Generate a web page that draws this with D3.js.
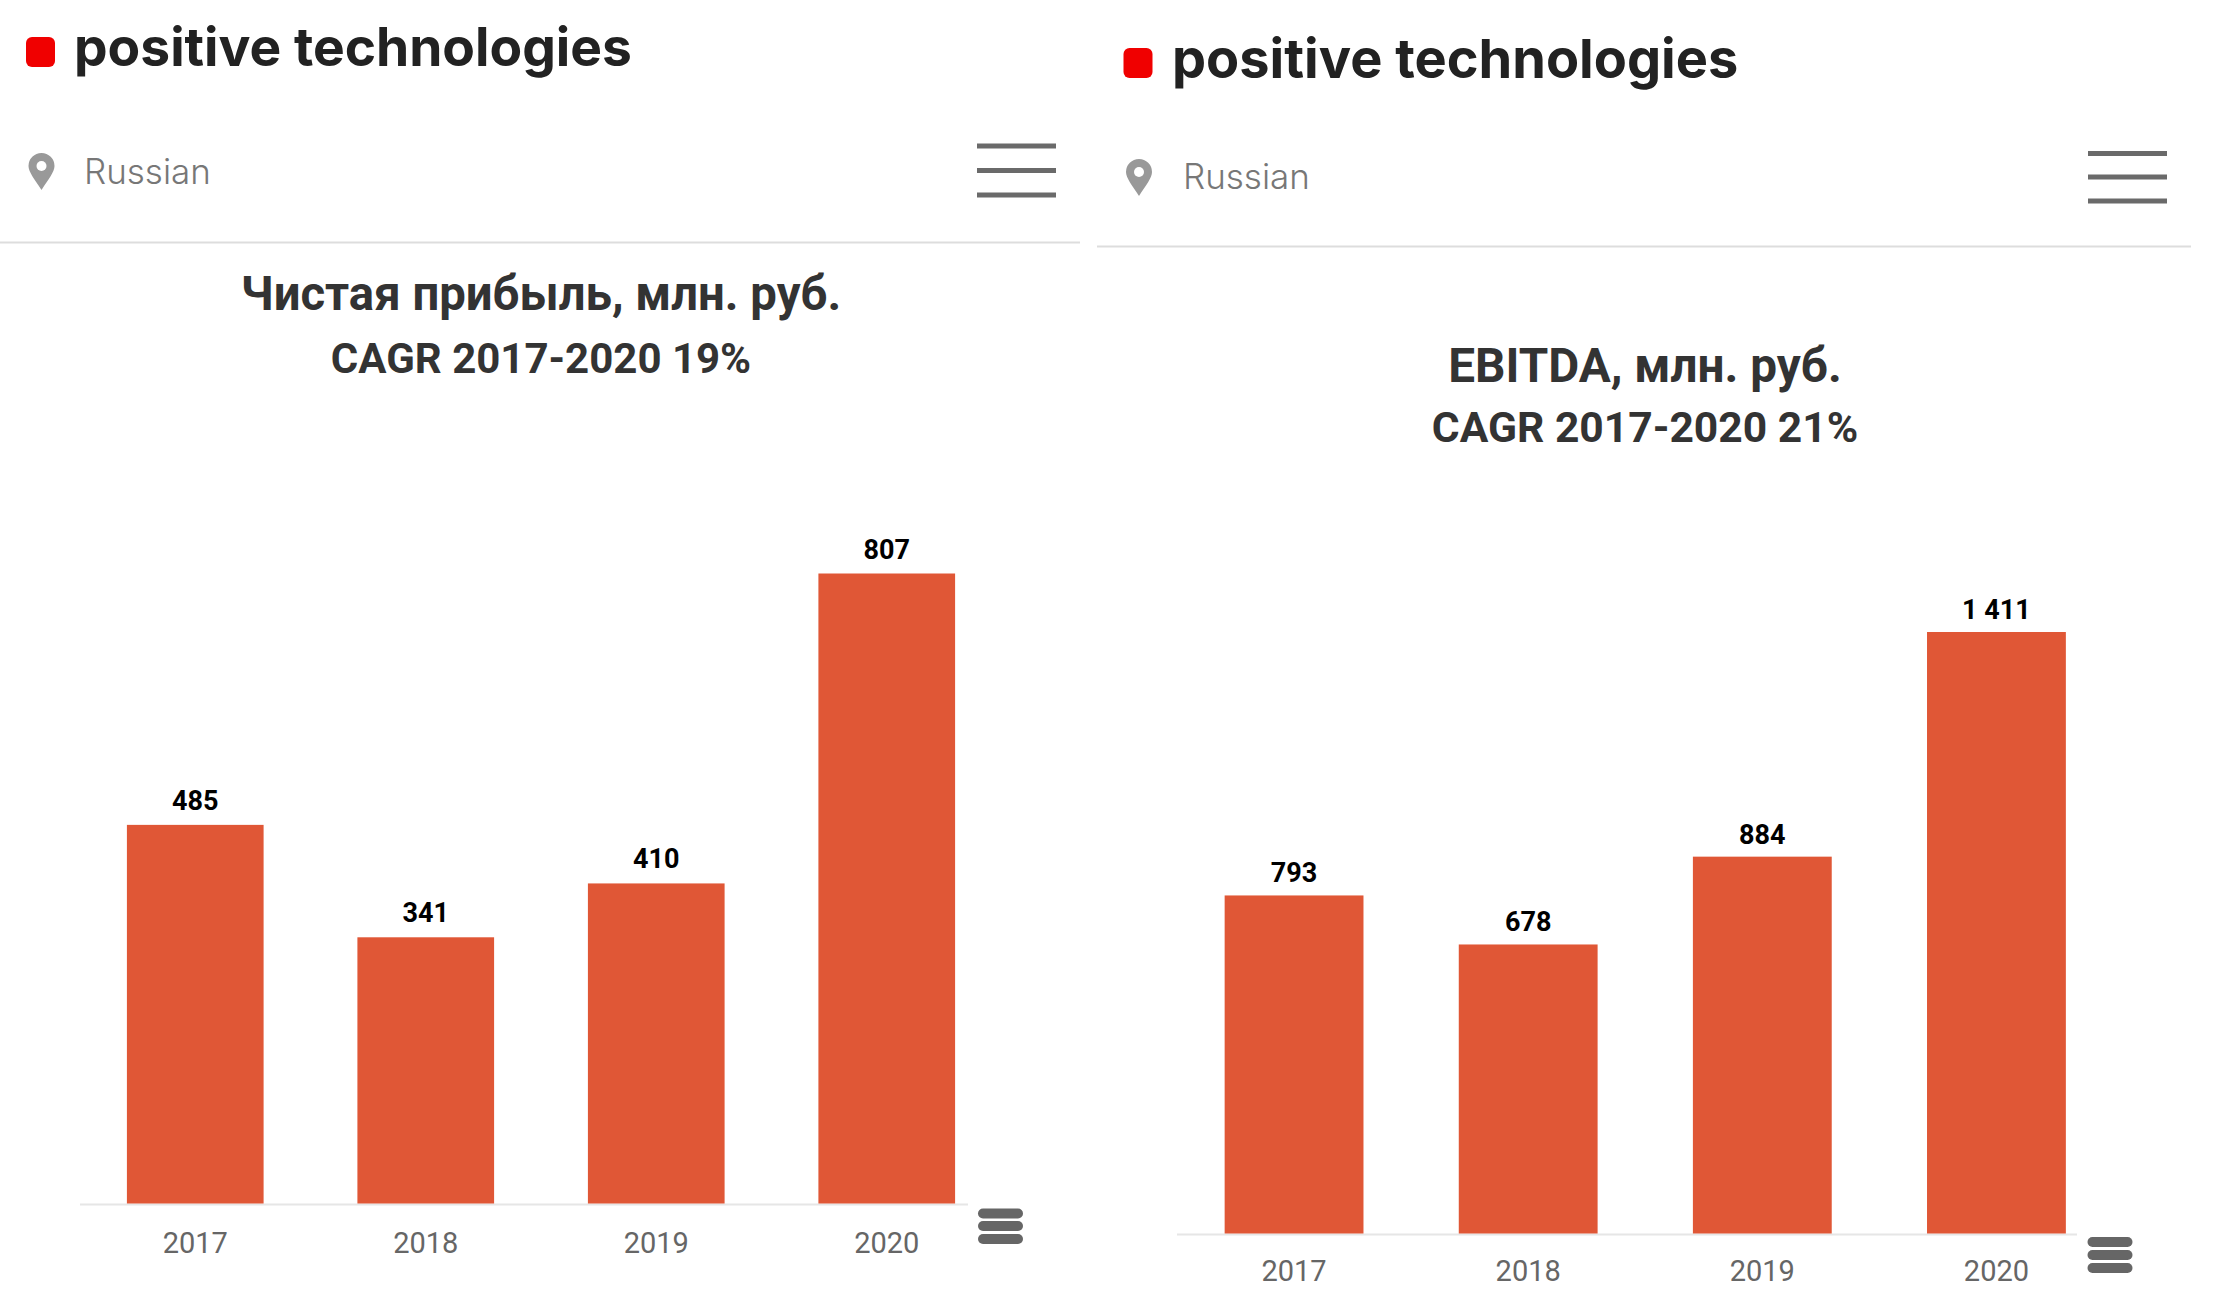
<!DOCTYPE html>
<html><head><meta charset="utf-8">
<style>html,body{margin:0;padding:0;background:#fff}svg{display:block}</style>
<script src="https://cdn.jsdelivr.net/npm/d3@7"></script></head>
<body><svg id="c" width="2232" height="1306"></svg>
<script>
const years = ["2017","2018","2019","2020"];
const netProfit = [485,341,410,807];
const ebitda = [793,678,884,1411];
const titles = ["Чистая прибыль, млн. руб.","EBITDA, млн. руб."];
const subtitles = ["CAGR 2017-2020 19%","CAGR 2017-2020 21%"];
const brand = "positive technologies";
const lang = "Russian";

const svg = d3.select("#c");
const BAR="#e05736", F="Roboto, sans-serif";
const fmt = v => d3.format(",")(v).replace(/,/g," ");

function panel(o){
  const g = svg.append("g");
  // header
  g.append("rect").attr("x",o.sq[0]).attr("y",o.sq[1]).attr("width",29).attr("height",30).attr("rx",6).attr("fill","#f00000");
  g.append("text").attr("x",o.logo[0]).attr("y",o.logo[1]).text(brand)
    .attr("font-family","Inter, sans-serif").attr("font-weight",700).attr("font-size",o.logoSize).attr("fill","#222");
  g.append("text").attr("x",o.lang[0]).attr("y",o.lang[1]).text(lang)
    .attr("font-family","Inter, sans-serif").attr("font-weight",300).attr("font-size",35).attr("fill","#777");
  const pin = g.append("g").attr("transform",`translate(${o.pin[0]},${o.pin[1]})`);
  pin.append("path").attr("d","M0,15 C-7,4 -13,-3 -13,-9 A13,13 0 1 1 13,-9 C13,-3 7,4 0,15Z").attr("fill","#999");
  pin.append("circle").attr("cy",-9).attr("r",5).attr("fill","#fff");
  o.burger.forEach(y=>g.append("rect").attr("x",o.bx[0]).attr("y",y).attr("width",o.bx[1]-o.bx[0]).attr("height",5).attr("fill","#6a6a6a"));
  g.append("rect").attr("x",o.div[0]).attr("y",o.div[2]).attr("width",o.div[1]-o.div[0]).attr("height",2).attr("fill","#ddd");
  // titles
  g.append("text").attr("x",o.cx).attr("y",o.ty[0]).attr("text-anchor","middle").text(o.title)
    .attr("font-family",F).attr("font-weight",700).attr("font-size",o.ts[0]).attr("fill","#333");
  g.append("text").attr("x",o.cx).attr("y",o.ty[1]).attr("text-anchor","middle").text(o.sub)
    .attr("font-family",F).attr("font-weight",700).attr("font-size",o.ts[1]).attr("fill","#333");
  // chart
  const x = d3.scaleBand().domain(years).range(o.xr).paddingInner(o.pad).paddingOuter(o.pad/2);
  const y = d3.scaleLinear().domain([0,d3.max(o.vals)]).range(o.yr);
  g.append("line").attr("x1",o.xr[0]).attr("x2",o.axEnd).attr("y1",o.yr[0]+1).attr("y2",o.yr[0]+1).attr("stroke","#e6e6e6").attr("stroke-width",2);
  g.selectAll(".b").data(o.vals).join("rect").attr("x",(d,i)=>x(years[i])).attr("width",x.bandwidth())
    .attr("y",d=>y(d)).attr("height",d=>y(0)-y(d)).attr("fill",BAR);
  g.selectAll(".l").data(o.vals).join("text").attr("x",(d,i)=>x(years[i])+x.bandwidth()/2).attr("y",d=>y(d)-o.lo)
    .attr("text-anchor","middle").attr("font-family",F).attr("font-weight",700).attr("font-size",27).attr("fill","#000").text(fmt);
  const ax = g.append("g").attr("transform",`translate(0,${o.yr[0]})`).call(d3.axisBottom(x).tickSize(0).tickPadding(o.tp));
  ax.select(".domain").remove();
  ax.selectAll("text").attr("font-family",F).attr("font-size",29).attr("fill","#666");
  // export menu
  o.menu.forEach(y=>g.append("rect").attr("x",o.mx[0]).attr("y",y-5).attr("width",o.mx[1]-o.mx[0]).attr("height",10).attr("rx",5).attr("fill","#666"));
}
panel({vals:netProfit,title:titles[0],sub:subtitles[0],sq:[26,37],logo:[74,66],logoSize:53.3,lang:[84,184],pin:[41.5,175],
  burger:[143.5,168,192.5],bx:[977,1056],div:[0,1080,241.5],cx:541,ty:[310,373],ts:[47.3,42],xr:[80,1002],pad:0.407,yr:[1203.5,573.5],axEnd:968,tp:29,lo:15,
  menu:[1213.5,1226,1239],mx:[978,1023]});
panel({vals:ebitda,title:titles[1],sub:subtitles[1],sq:[1123.5,48],logo:[1172,78],logoSize:54.1,lang:[1183,189],pin:[1139,181],
  burger:[151,174.5,198.5],bx:[2088,2167],div:[1097,2191,245.5],cx:1645,ty:[382,442],ts:[47.7,42.6],xr:[1177,2113.5],pad:0.407,yr:[1233.5,632],axEnd:2077,tp:27,lo:13,
  menu:[1242,1255,1268],mx:[2087.5,2132.5]});
</script></body></html>
